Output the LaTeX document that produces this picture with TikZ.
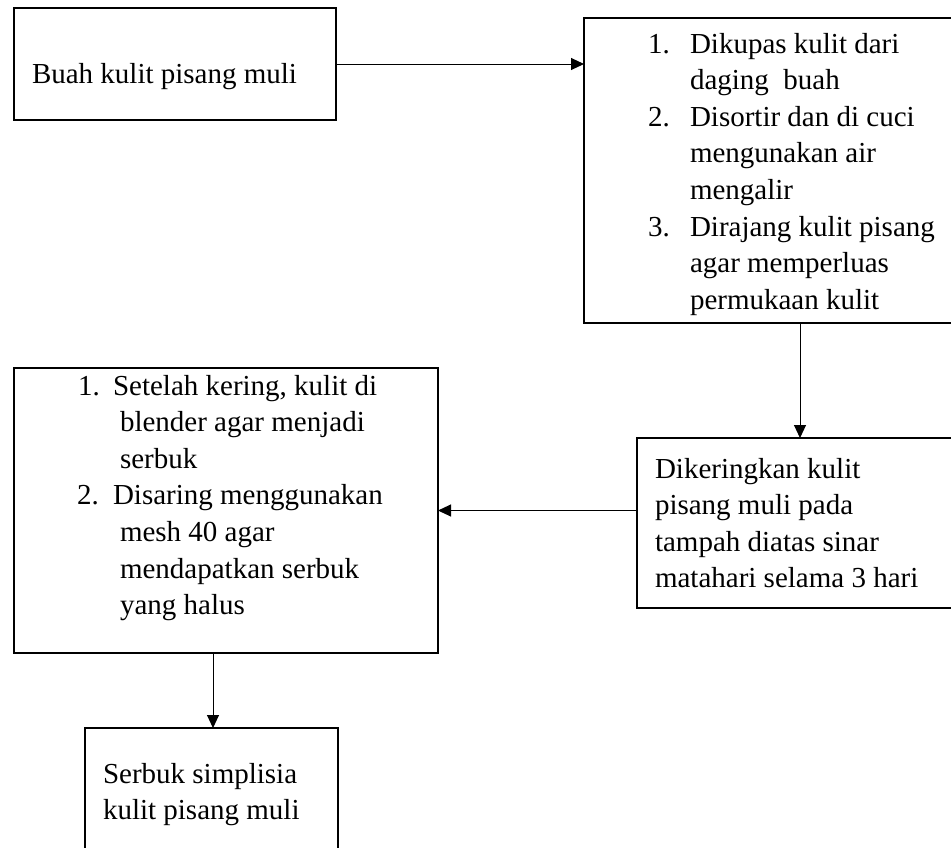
\documentclass[tikz,border=0pt]{standalone}
\usepackage{fontspec}
\setmainfont{Liberation Serif}
\usetikzlibrary{arrows.meta,calc}
\begin{document}
\begin{tikzpicture}[x=1pt,y=-1pt,
  box/.style={draw=black,line width=2pt,rectangle,inner sep=0pt,outer sep=0pt},
  arr/.style={draw=black,line width=1pt,-{Triangle[length=13pt,width=12pt]}},
  txt/.style={inner sep=0pt,outer sep=0pt,anchor=base west,font=\fontsize{29}{36.6}\selectfont}]
\useasboundingbox (0,0) rectangle (951,847);
% boxes
\node[box,minimum width=322pt,minimum height=112pt] (b1) at (175,64) {};
\node[box,minimum width=371pt,minimum height=305pt] (b2) at (769.5,170.5) {};
\node[box,minimum width=318pt,minimum height=170pt] (b3) at (796,523) {};
\node[box,minimum width=424pt,minimum height=285pt] (b4) at (226,510.5) {};
\node[box,minimum width=253pt,minimum height=124pt] (b5) at (211.5,790) {};
% box 1 text
\node[txt] (t1) at (32,83) {Buah kulit pisang muli};
% box 2 text
\node[txt] (t2a) at (648,53) {1.};
\node[txt] (t2b) at (690,53) {Dikupas kulit dari};
\node[txt] (t2c) at (690,89.6) {daging\ \ buah};
\node[txt] (t2d) at (648,126.2) {2.};
\node[txt] (t2e) at (690,126.2) {Disortir dan di cuci};
\node[txt] (t2f) at (690,162.8) {mengunakan air};
\node[txt] (t2g) at (690,199.4) {mengalir};
\node[txt] (t2h) at (648,236) {3.};
\node[txt] (t2i) at (690,236) {Dirajang kulit pisang};
\node[txt] (t2j) at (690,272.6) {agar memperluas};
\node[txt] (t2k) at (690,309.2) {permukaan kulit};
% box 3 text
\node[txt] (t3a) at (655,478) {Dikeringkan kulit};
\node[txt] (t3b) at (655,514.6) {pisang muli pada};
\node[txt] (t3c) at (655,551.2) {tampah diatas sinar};
\node[txt] (t3d) at (655,587.8) {matahari selama 3 hari};
% box 4 text
\node[txt] (t4a) at (78,395) {1.};
\node[txt] (t4b) at (113,395) {Setelah kering, kulit di};
\node[txt] (t4c) at (120,431.6) {blender agar menjadi};
\node[txt] (t4d) at (120,468.2) {serbuk};
\node[txt] (t4e) at (77,504.8) {2.};
\node[txt] (t4f) at (113,504.8) {Disaring menggunakan};
\node[txt] (t4g) at (120,541.4) {mesh 40 agar};
\node[txt] (t4h) at (120,578) {mendapatkan serbuk};
\node[txt] (t4i) at (120,614.6) {yang halus};
% box 5 text
\node[txt] (t5a) at (103,783) {Serbuk simplisia};
\node[txt] (t5b) at (103,819.6) {kulit pisang muli};
% connectors
\draw[arr] (b1.east) -- (b2.west |- b1.east);
\draw[arr] ($(b2.south)+(30.5,0)$) -- ($(b3.north)+(4,0)$);
\draw[arr] (b3.west |- b4.east) -- (b4.east);
\draw[arr] ($(b5.north |- b4.south)+(1.5,0)$) -- ($(b5.north)+(1.5,0)$);
\end{tikzpicture}
\end{document}
